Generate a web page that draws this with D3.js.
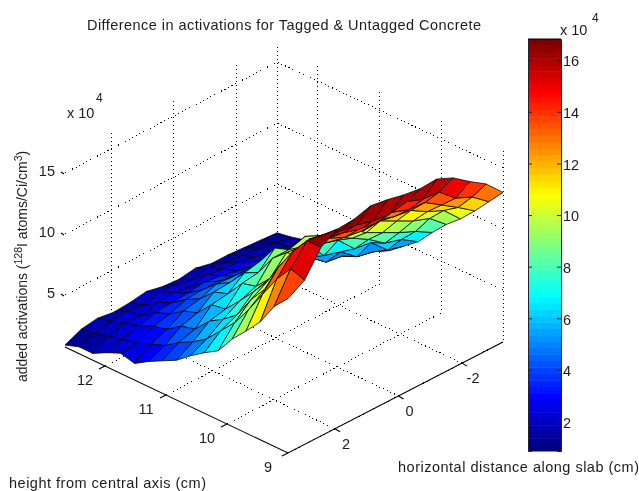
<!DOCTYPE html>
<html>
<head>
<meta charset="utf-8">
<style>
    body { margin: 0; background: #fff; }
    svg { display: block; filter: blur(0.35px); }
    text { font-family: "Liberation Sans", Arial, sans-serif; font-size: 14.5px; fill: #1c1c1c; }
    .grid { fill: none; stroke: #000; stroke-width: 1; stroke-dasharray: 1 3; shape-rendering: crispEdges; }
    .edge { stroke: #000; stroke-width: 1.1; fill: none; }
    .cell { stroke: #05050f; stroke-width: 0.8; stroke-linejoin: round; }
</style>
<script src="https://d3js.org/d3.v7.min.js"></script>
</head>
<body>
<svg id="chart" width="639" height="491"></svg>
<script>
    // height from central axis, one entry per row of the mesh
    var heights = [12.656, 12.428, 12.2, 11.972, 11.744, 11.516, 11.288, 11.06, 10.828, 10.6, 10.372, 10.144, 9.916, 9.688, 9.456, 9.228, 9];
    // horizontal distance along slab, one entry per column of the mesh
    var distances = [3.48, 2.96, 2.44, 1.92, 1.4, 0.88, 0.36, -0.16, -0.68, -1.2, -1.72, -2.24, -2.76, -3.29];

    // added activations (x 10^4), rows follow heights, columns follow distances
    var activations = [
        [0.9, 1.5, 1.7, 1.5, 1.6, 1.8, 1.5, 1.4, 1.6, 1.3, 1.3, 1.2, 1.1, 1.0],
        [1.3, 1.7, 2.0, 2.2, 1.9, 2.3, 2.2, 1.9, 2.2, 1.9, 1.8, 1.6, 1.4, 1.2],
        [1.3, 2.0, 2.4, 2.3, 2.7, 2.8, 2.5, 2.9, 2.6, 2.5, 2.2, 2.1, 1.7, 1.5],
        [1.9, 2.3, 2.7, 3.1, 3.2, 3.3, 3.5, 3.3, 3.0, 3.1, 2.7, 2.4, 2.1, 1.8],
        [2.4, 2.5, 3.2, 3.5, 4.0, 4.1, 4.1, 3.8, 3.9, 3.4, 3.2, 2.8, 2.6, 2.2],
        [2.1, 3.0, 3.5, 4.3, 4.6, 5.1, 5.0, 4.7, 4.3, 4.1, 3.5, 3.4, 2.8, 2.6],
        [2.8, 3.4, 4.3, 4.7, 5.7, 5.8, 6.1, 5.6, 5.4, 4.6, 4.3, 3.5, 3.2, 2.8],
        [3.4, 4.2, 4.6, 5.9, 6.1, 7.1, 7.4, 7.0, 6.0, 5.6, 4.5, 4.3, 3.6, 3.5],
        [4.0, 4.8, 5.8, 6.1, 7.5, 7.7, 9.0, 8.2, 7.8, 6.3, 5.9, 4.8, 4.5, 3.9],
        [4.9, 5.6, 6.5, 7.3, 7.8, 9.4, 9.4, 9.8, 8.5, 8.1, 6.7, 6.5, 5.2, 4.8],
        [5.7, 6.8, 7.4, 8.6, 9.0, 10.4, 10.2, 10.4, 9.6, 8.8, 8.0, 7.0, 6.6, 5.7],
        [6.4, 8.0, 9.2, 10.0, 10.9, 10.7, 11.0, 10.6, 10.8, 9.8, 9.1, 8.4, 7.8, 7.0],
        [7.9, 9.6, 10.6, 12.0, 11.9, 12.1, 11.7, 11.9, 11.2, 11.3, 10.6, 9.9, 9.4, 8.2],
        [9.1, 11.4, 13.0, 13.6, 13.2, 13.2, 12.6, 12.4, 12.6, 12.2, 12.0, 11.2, 10.6, 9.2],
        [10.4, 13.2, 14.8, 15.1, 14.5, 14.2, 13.8, 13.6, 13.8, 13.3, 13.2, 12.3, 11.4, 10.4],
        [12.2, 14.6, 16.2, 16.0, 15.6, 15.4, 15.0, 14.9, 15.2, 14.7, 14.6, 13.4, 12.8, 11.7],
        [13.4, 14.2, 16.2, 17.0, 17.1, 17.5, 17.3, 17.0, 16.8, 16.9, 16.3, 15.3, 14.4, 13.0]
    ];

    var heightTicks = [12, 11, 10, 9];
    var distanceTicks = [2, 0, -2];
    var activationTicks = [5, 10, 15];
    var colorTicks = [2, 4, 6, 8, 10, 12, 14, 16];

    var heightLim = [12.656, 9];
    var distanceLim = [3.48, -3.29];
    var zLim = [0.74, 16.5];
    var colorLim = [0.86, 16.82];

    var svg = d3.select("#chart");

    // 3d box flattened on the page: each data axis moves x and y by a fixed amount
    var heightX = d3.scaleLinear().domain(heightLim).range([0, 223]),
        heightY = d3.scaleLinear().domain(heightLim).range([0, 106]),
        distanceX = d3.scaleLinear().domain(distanceLim).range([0, 212]),
        distanceY = d3.scaleLinear().domain(distanceLim).range([0, -111]),
        zY = d3.scaleLinear().domain(zLim).range([0, -192.3]);

    function project(h, d, z) {
        // the box is a little wider near the viewer
        var widen = 1 + 0.0142 * heightX(h) / 223;
        return [65 + heightX(h) + distanceX(d) * widen, 347 + heightY(h) + distanceY(d) + zY(z)];
    }

    // matlab jet
    function jet(t) {
        function ramp(v) { return Math.max(0, Math.min(1, v)); }
        var r = ramp(Math.min(4 * t - 1.5, -4 * t + 4.5)),
            g = ramp(Math.min(4 * t - 0.5, -4 * t + 3.5)),
            b = ramp(Math.min(4 * t + 0.5, -4 * t + 2.5));
        return d3.rgb(r * 255, g * 255, b * 255).formatHex();
    }
    var colorNorm = d3.scaleLinear().domain(colorLim).range([0, 1]).clamp(true);
    function colorOf(z) { return jet(Math.floor(colorNorm(z) * 63.99) / 63); }

    var line = d3.line();

    function drawGrid(points) {
        svg.append("path").attr("class", "grid").attr("d", line(points));
    }

    // walls and floor, dotted
    activationTicks.forEach(function (z) {
        drawGrid([project(heightLim[0], distanceLim[0], z), project(heightLim[0], distanceLim[1], z), project(heightLim[1], distanceLim[1], z)]);
    });
    heightTicks.forEach(function (h) {
        drawGrid([project(h, distanceLim[0], zLim[0]), project(h, distanceLim[1], zLim[0]), project(h, distanceLim[1], zLim[1])]);
    });
    distanceTicks.forEach(function (d) {
        drawGrid([project(heightLim[1], d, zLim[0]), project(heightLim[0], d, zLim[0]), project(heightLim[0], d, zLim[1])]);
    });
    drawGrid([project(heightLim[0], distanceLim[1], zLim[0]), project(heightLim[0], distanceLim[1], zLim[1])]);

    // solid axes
    svg.append("path").attr("class", "edge").attr("d", line([
        project(heightLim[0], distanceLim[0], zLim[0]),
        project(heightLim[1], distanceLim[0], zLim[0]),
        project(heightLim[1], distanceLim[1], zLim[0])
    ]));
    heightTicks.forEach(function (h) {
        var p = project(h, distanceLim[0], zLim[0]);
        svg.append("path").attr("class", "edge").attr("d", line([p, [p[0] - 6, p[1] + 3]]));
    });
    distanceTicks.forEach(function (d) {
        var p = project(heightLim[1], d, zLim[0]);
        svg.append("path").attr("class", "edge").attr("d", line([p, [p[0] + 5, p[1] + 3]]));
    });
    activationTicks.forEach(function (z) {
        var p = project(heightLim[0], distanceLim[0], z);
        svg.append("path").attr("class", "edge").attr("d", line([[p[0] - 4, p[1] - 1], [p[0] - 1, p[1] + 1]]));
    });

    // surface, painted from the back corner towards the viewer
    var cells = [];
    for (var i = 0; i < heights.length - 1; i++) {
        for (var j = distances.length - 2; j >= 0; j--) {
            cells.push({ i: i, j: j });
        }
    }
    svg.append("g").selectAll("path")
        .data(cells)
        .enter().append("path")
        .attr("class", "cell")
        .attr("d", function (c) {
            return line([
                project(heights[c.i], distances[c.j], activations[c.i][c.j]),
                project(heights[c.i + 1], distances[c.j], activations[c.i + 1][c.j]),
                project(heights[c.i + 1], distances[c.j + 1], activations[c.i + 1][c.j + 1]),
                project(heights[c.i], distances[c.j + 1], activations[c.i][c.j + 1])
            ]) + "Z";
        })
        .attr("fill", function (c) {
            return colorOf((activations[c.i][c.j] + activations[c.i + 1][c.j] + activations[c.i + 1][c.j + 1] + activations[c.i][c.j + 1]) / 4);
        });

    // tick labels of the box
    heightTicks.forEach(function (h) {
        var p = project(h, distanceLim[0], zLim[0]);
        svg.append("text").attr("x", p[0] - 20).attr("y", p[1] + 19).attr("text-anchor", "middle").text(h);
    });
    distanceTicks.forEach(function (d) {
        var p = project(heightLim[1], d, zLim[0]);
        svg.append("text").attr("x", p[0] + 11).attr("y", p[1] + 20).attr("text-anchor", "middle").text(d);
    });
    activationTicks.forEach(function (z) {
        var p = project(heightLim[0], distanceLim[0], z);
        svg.append("text").attr("x", p[0] - 10).attr("y", p[1] + 3).attr("text-anchor", "end").text(z);
    });

    // colorbar
    var colorY = d3.scaleLinear().domain(colorLim).range([451, 39]);
    var barX = 528, barWidth = 33;
    svg.append("g").selectAll("rect")
        .data(d3.range(64))
        .enter().append("rect")
        .attr("x", barX)
        .attr("width", barWidth)
        .attr("y", function (k) { return colorY(colorLim[0] + (k + 1) / 64 * (colorLim[1] - colorLim[0])); })
        .attr("height", (451 - 39) / 64 + 0.5)
        .attr("fill", function (k) { return jet(k / 63); });

    var barRight = svg.append("g")
        .attr("transform", "translate(" + (barX + barWidth) + ",0)")
        .call(d3.axisRight(colorY).tickValues(colorTicks).tickSize(-4).tickPadding(6).tickFormat(d3.format("d")));
    var barLeft = svg.append("g")
        .attr("transform", "translate(" + barX + ",0)")
        .call(d3.axisLeft(colorY).tickValues(colorTicks).tickSize(-4).tickFormat(""));
    barRight.selectAll("text").style("font-size", "14.5px").style("font-family", '"Liberation Sans"').attr("x", 2).attr("dy", "0.4em");
    barRight.selectAll("path,line").attr("stroke", "#223");
    barLeft.selectAll("path,line").attr("stroke", "#223");
    svg.append("path").attr("class", "edge").attr("d", line([[barX, 39], [barX + barWidth, 39]]));

    // titles and labels
    svg.append("text").attr("x", 87).attr("y", 30).attr("textLength", 394).attr("lengthAdjust", "spacing")
        .text("Difference in activations for Tagged & Untagged Concrete");
    svg.append("text").attr("x", 9).attr("y", 488).attr("textLength", 197).attr("lengthAdjust", "spacing")
        .text("height from central axis (cm)");
    svg.append("text").attr("x", 398).attr("y", 472).attr("textLength", 241).attr("lengthAdjust", "spacing")
        .text("horizontal distance along slab (cm)");

    var zLabel = svg.append("text").attr("transform", "translate(27,382) rotate(-90)").style("font-size", "14px");
    zLabel.append("tspan").text("added activations (");
    zLabel.append("tspan").attr("dy", -5).style("font-size", "10.5px").text("128");
    zLabel.append("tspan").attr("dy", 5).text("I atoms/Ci/cm");
    zLabel.append("tspan").attr("dy", -5).style("font-size", "10.5px").text("3");
    zLabel.append("tspan").attr("dy", 5).text(")");

    svg.append("text").attr("x", 67).attr("y", 118).text("x 10");
    svg.append("text").attr("x", 96).attr("y", 102).style("font-size", "12px").text("4");
    svg.append("text").attr("x", 560).attr("y", 35).text("x 10");
    svg.append("text").attr("x", 592).attr("y", 22).style("font-size", "12px").text("4");
</script>
</body>
</html>
